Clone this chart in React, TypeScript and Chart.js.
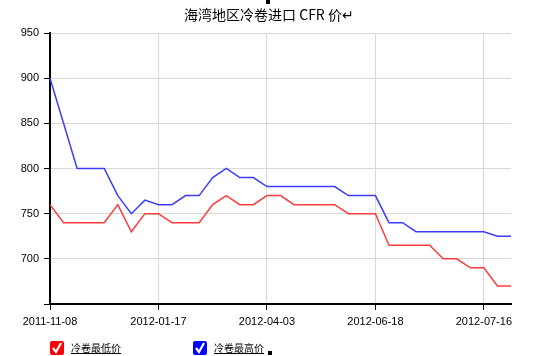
import React, { useEffect, useRef } from 'react';
import { Chart, registerables } from 'chart.js';

Chart.register(...registerables);

const categories = [
  '2011-11-08', '', '', '', '', '', '', '',
  '2012-01-17', '', '', '', '', '', '', '',
  '2012-04-03', '', '', '', '', '', '', '',
  '2012-06-18', '', '', '', '', '', '', '',
  '2012-07-16', '', '',
];

const lowPrices = [
  760, 740, 740, 740, 740, 760, 730, 750, 750, 740,
  740, 740, 760, 770, 760, 760, 770, 770, 760, 760,
  760, 760, 750, 750, 750, 715, 715, 715, 715, 700,
  700, 690, 690, 670, 670,
];

const highPrices = [
  900, 850, 800, 800, 800, 770, 750, 765, 760, 760,
  770, 770, 790, 800, 790, 790, 780, 780, 780, 780,
  780, 780, 770, 770, 770, 740, 740, 730, 730, 730,
  730, 730, 730, 725, 725,
];

const seriesNames = ['冷卷最低价', '冷卷最高价'];
const seriesColors = ['#ff3c3c', '#3c3cff'];
const boxColors = ['#ff0000', '#0000ff'];
const titleText = '海湾地区冷卷进口 CFR 价↵';
const yMin = 650;
const yMax = 950;
const yStep = 50;

const tickFont = { family: '"Liberation Sans", Arial, sans-serif', size: 11 };

function Check({ color }: { color: string }) {
  return (
    <span
      style={{
        display: 'inline-block',
        width: 14,
        height: 14,
        background: color,
        borderRadius: 2,
        position: 'relative',
        verticalAlign: 'middle',
      }}
    >
      <svg width="14" height="14" style={{ position: 'absolute', left: 0, top: 0 }}>
        <path d="M3 7 L6 11 L11 2" stroke="#fff" strokeWidth="2.2" fill="none" />
      </svg>
    </span>
  );
}

export default function App() {
  const ref = useRef<HTMLCanvasElement | null>(null);

  useEffect(() => {
    if (!ref.current) return;
    const chart = new Chart(ref.current, {
      type: 'line',
      data: {
        labels: categories,
        datasets: [
          {
            label: seriesNames[0],
            data: lowPrices,
            borderColor: seriesColors[0],
            backgroundColor: seriesColors[0],
            borderWidth: 1.5,
            pointRadius: 0,
            tension: 0,
            fill: false,
          },
          {
            label: seriesNames[1],
            data: highPrices,
            borderColor: seriesColors[1],
            backgroundColor: seriesColors[1],
            borderWidth: 1.5,
            pointRadius: 0,
            tension: 0,
            fill: false,
          },
        ],
      },
      options: {
        animation: false,
        responsive: false,
        maintainAspectRatio: false,
        layout: { padding: { top: 33, right: 24, left: 0, bottom: 0 } },
        plugins: {
          legend: { display: false },
          tooltip: { enabled: false },
          title: { display: false },
        },
        scales: {
          x: {
            type: 'category',
            afterBuildTicks: (s: any) => {
              s.ticks = s.ticks.filter((t: any) => categories[t.value] !== '');
            },
            afterFit: (s: any) => {
              s.height = 52;
            },
            ticks: {
              autoSkip: false,
              maxRotation: 0,
              color: '#000',
              font: tickFont,
              padding: 5,
            },
            grid: { color: '#d9d9d9', tickColor: '#000', tickLength: 6, lineWidth: 1 },
            border: { color: '#000', width: 2 },
          },
          y: {
            min: yMin,
            max: yMax,
            afterFit: (s: any) => {
              s.width = 50;
            },
            ticks: {
              stepSize: yStep,
              color: '#000',
              font: tickFont,
              padding: 5,
              callback: (v: any) => (Number(v) === yMin ? '' : String(v)),
            },
            grid: { color: '#d9d9d9', tickColor: '#000', tickLength: 6, lineWidth: 1 },
            border: { color: '#000', width: 2 },
          },
        },
      },
    });
    return () => chart.destroy();
  }, []);

  const legendText: React.CSSProperties = {
    fontFamily: '"Noto Sans CJK SC", sans-serif',
    fontSize: 10,
    color: '#000',
    textDecoration: 'underline',
    marginLeft: 7,
    verticalAlign: 'middle',
  };

  return (
    <div style={{ position: 'fixed', left: 0, top: 0, width: 535, height: 356, background: '#fff' }}>
      <canvas ref={ref} width={535} height={356} style={{ display: 'block', width: 535, height: 356 }} />
      <div
        style={{
          position: 'absolute',
          left: 0,
          width: 538,
          top: 4,
          textAlign: 'center',
          fontFamily: '"Noto Sans CJK SC", sans-serif',
          fontSize: 14,
          lineHeight: '20px',
          color: '#000',
          whiteSpace: 'nowrap',
        }}
      >
        {titleText}
      </div>
      <div style={{ position: 'absolute', left: 266, top: 0, width: 4, height: 4, background: '#000' }} />
      <div style={{ position: 'absolute', left: 50, top: 340, whiteSpace: 'nowrap', lineHeight: '14px' }}>
        <Check color={boxColors[0]} />
        <span style={legendText}>{seriesNames[0]}</span>
      </div>
      <div style={{ position: 'absolute', left: 193, top: 340, whiteSpace: 'nowrap', lineHeight: '14px' }}>
        <Check color={boxColors[1]} />
        <span style={legendText}>{seriesNames[1]}</span>
        <span style={{ display: 'inline-block', width: 4, height: 4, background: '#000', marginLeft: 4, verticalAlign: 'bottom' }} />
      </div>
    </div>
  );
}
